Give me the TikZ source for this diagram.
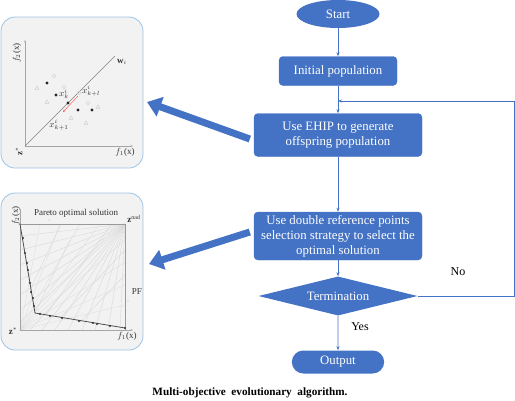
\documentclass[tikz,border=0pt]{standalone}
\usepackage{fontspec}
\setmainfont{Liberation Serif}
\usepackage{tikz}
\usetikzlibrary{arrows.meta,calc,positioning,shapes.geometric,shapes.misc}
\definecolor{flowblue}{HTML}{4472C4}
\definecolor{panelfill}{HTML}{F2F2F2}
\definecolor{panelline}{HTML}{9DC3E6}

\tikzset{
  flowbox/.style={draw=flowblue,fill=flowblue,text=white,rounded corners=4pt,
    align=center,font=\fontsize{12.8}{15}\selectfont,inner sep=1pt},
  flowline/.style={flowblue,thick,-{Stealth[length=4pt,width=3pt]}},
  bigarrow/.style={flowblue,line width=7pt,-{Triangle[length=14pt,width=20pt]}},
  panel/.style={draw=panelline,fill=panelfill,rounded corners=14pt,thick},
  axis/.style={gray!70,thick,-{Stealth[length=2.5pt]}},
  lab/.style={font=\fontsize{9}{10}\selectfont,text=black!80,inner sep=0.5pt},
  dotb/.style={fill=black!85},
}

\begin{document}
\begin{tikzpicture}[x=1pt,y=-1pt]
\useasboundingbox (0,0) rectangle (515,400);

% flowchart
\node[ellipse,fill=flowblue,text=white,minimum width=83pt,minimum height=28pt,
  font=\fontsize{12.8}{15}\selectfont,inner sep=0pt] (start) at (338,14) {Start};
\node[flowbox,minimum width=118pt,minimum height=29pt] (init) at (338,71) {Initial population};
\node[flowbox,minimum width=168pt,minimum height=43pt] (ehip) at (338,135)
  {Use EHIP to generate\\offspring population};
\node[flowbox,minimum width=168pt,minimum height=48pt] (select) at (338,236)
  {Use double reference points\\selection strategy to select the\\optimal solution};
\node[diamond,aspect=4.1,fill=flowblue,text=white,minimum width=159pt,minimum height=39pt,
  inner sep=0pt,font=\fontsize{12.8}{15}\selectfont] (term) at (338,296) {Termination};
\node[rounded rectangle,fill=flowblue,text=white,minimum width=99pt,minimum height=23pt,
  font=\fontsize{12.8}{15}\selectfont] (out) at (338,362) {Output};
\coordinate (back) at (338,101);
\coordinate (corner) at (514,101);

\draw[flowline] (start) -- (init);
\draw[flowline] (init) -- (ehip);
\draw[flowline] (ehip) -- (select);
\draw[flowline] (select) -- (term);
\draw[flowline] (term) -- (out);
\draw[flowline] (term.east) -| (corner) -- (back);
\node[font=\fontsize{12}{13}\selectfont] (no) at (458,272) {No};
\node[font=\fontsize{12}{13}\selectfont] (yes) at (360,327) {Yes};

\node[font=\bfseries\fontsize{11.2}{12}\selectfont] (cap) at (250,393)
  {Multi-objective\ \ evolutionary\ \ algorithm.};

% panels
\node[panel,minimum width=142pt,minimum height=151pt] (pa) at (72,92.5) {};
\node[panel,minimum width=142pt,minimum height=157pt] (pb) at (72,271.5) {};
\coordinate (ta) at (147,102);
\coordinate (tb) at (149,264);
\draw[bigarrow] ($(ehip.west)+(-4,4)$) -- (ta);
\draw[bigarrow] ($(select.west)+(-4,-4)$) -- (tb);

% panel a
\coordinate (oa) at (25,146);
\draw[axis] (oa) -- (25,40);
\draw[axis] (oa) -- (133,146);
\draw[gray,thin] (oa) -- (115,56);
\node[lab,rotate=90] at (17,53) {$f_2$(x)};
\node[lab] at (125,152) {$f_1$(x)};
\node[lab,rotate=90] at (19,151) {$\mathbf{z}^*$};
\node[lab] at (122,62) {$\mathbf{w}_i$};
\foreach \p in {(37,88),(47,102),(71,118),(86,123),(98,107)}
  \draw[black!20] \p ++(0,-2.2) -- ++(2,3.5) -- ++(-4,0) -- cycle;
\foreach \p in {(54,76),(64,87),(88,103),(79,93)}
  \draw[black!20] \p circle (1.8pt);
\foreach \p in {(47,83),(56,95),(68,103),(78,110),(92,110)}
  \fill[dotb] \p circle (1.6pt);
\draw[red!70,-{Stealth[length=2.5pt]}] (78,96) -- (63,112);
\node[lab] at (64,94) {$x^i_k$};
\node[lab] at (91,91) {$x^i_{k+l}$};
\node[lab] at (59,125) {$x^i_{k+1}$};

% panel b
\coordinate (ob) at (20,330);
\coordinate (nad) at (125,224);
\foreach \x in {30,42,55,68,82,95,108,120}
  \draw[black!15] (nad) -- (\x,330);
\foreach \y in {236,250,265,280,295,310,322}
  \draw[black!15] (nad) -- (20,\y);
\foreach \x in {40,60,80,100,118}
  \draw[black!12] (ob) -- (\x,224);
\foreach \y in {240,262,285,305}
  \draw[black!12] (ob) -- (125,\y);
\draw[black!15] (35,313) -- (70,240) (45,316) -- (110,226) (60,318) -- (125,250)
  (30,290) -- (60,226) (80,322) -- (125,275);
\draw[axis] (ob) -- (20,208);
\draw[axis] (ob) -- (133,330);
\draw[gray!80,thick] (20,224) -- (nad) -- (125,330);
\draw[black!70,thick] (20,224) -- (35,313) -- (125,328);
\foreach \p in {(23,238),(25,253),(27,263),(28,270),(30,283),(31,292),(33,298),(34,306),
  (40,314),(50,316),(62,318),(79,321),(93,323),(97,324),(110,326),(125,328)}
  \fill[black!80] \p circle (1.1pt);
\node[lab] at (76,213) {Pareto optimal solution};
\fill[black!60] (49,220) circle (0.4pt) (128,301) circle (0.4pt);
\node[lab] at (134,219) {$\mathbf{z}^{\mathrm{nad}}$};
\node[lab] at (137,292) {PF};
\node[lab,rotate=90] at (16,216) {$f_2$(x)};
\node[lab] at (127,336) {$f_1$(x)};
\node[lab] at (13,331) {$\mathbf{z}^*$};
\end{tikzpicture}
\end{document}
